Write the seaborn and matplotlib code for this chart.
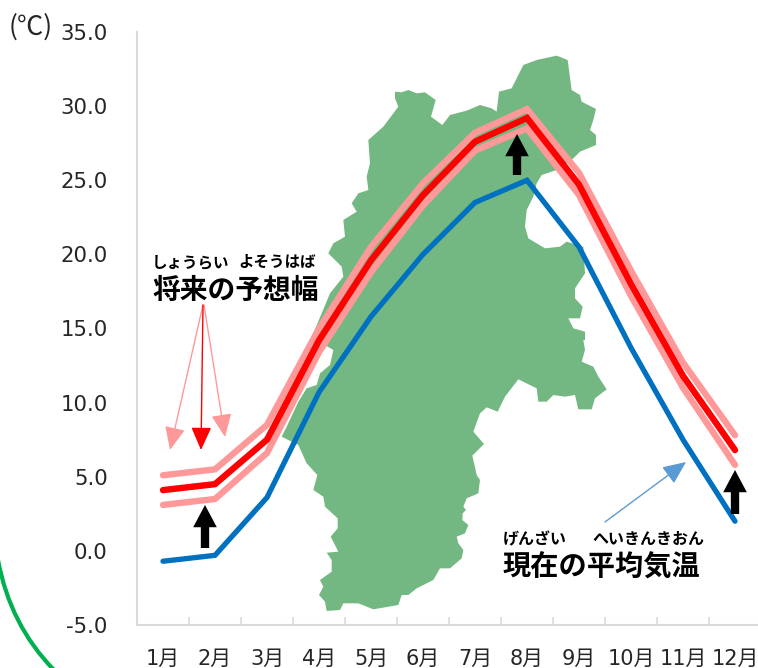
import matplotlib
matplotlib.use("Agg")
import matplotlib.pyplot as plt
import numpy as np
import pandas as pd
import seaborn as sns
from matplotlib.patches import FancyArrowPatch, PathPatch, Polygon
from matplotlib.path import Path

W, H = 758, 668

months = ["1月", "2月", "3月", "4月", "5月", "6月", "7月", "8月", "9月", "10月", "11月", "12月"]
current = [-0.7, -0.3, 3.6, 10.7, 15.8, 20.0, 23.5, 25.0, 20.5, 13.7, 7.5, 2.0]
future_mid = [4.1, 4.5, 7.5, 14.2, 19.6, 24.0, 27.6, 29.2, 24.7, 18.0, 11.8, 6.8]
future_high = [5.1, 5.5, 8.5, 15.0, 20.5, 24.8, 28.2, 29.8, 25.5, 18.9, 12.7, 7.8]
future_low = [3.1, 3.5, 6.6, 13.4, 18.8, 23.3, 27.0, 28.5, 24.0, 17.2, 11.0, 5.8]
y_ticks = [-5, 0, 5, 10, 15, 20, 25, 30, 35]

# outline of the prefecture, traced in px from the picture (background decoration)
map_top = [(375, 155), (395, 157), (415, 150), (440, 160), (465, 157), (497, 180), (483, 230), (517, 255),
           (540, 225), (590, 212), (630, 195), (665, 205), (680, 215), (687, 155), (725, 145), (760, 75),
           (800, 60), (860, 47), (893, 60), (905, 150), (930, 165), (935, 185), (978, 207), (970, 240),
           (960, 270), (978, 285), (978, 315), (930, 335), (905, 360), (860, 390), (815, 405), (800, 430),
           (790, 470), (770, 510), (765, 560), (775, 595), (825, 625), (870, 620), (890, 605), (940, 620),
           (945, 700), (915, 745), (915, 775), (938, 800), (930, 835), (895, 835), (910, 865), (945, 875),
           (945, 900)]
map_bottom = [(940, 30), (945, 60), (935, 95), (970, 110), (985, 140), (1010, 178), (975, 205), (965, 238),
              (925, 238), (915, 195), (885, 200), (850, 195), (830, 215), (805, 215), (800, 175), (745, 148),
              (705, 200), (683, 245), (650, 232), (630, 250), (610, 305), (642, 342), (607, 377), (620, 435),
              (630, 450), (625, 490), (590, 505), (580, 530), (588, 540), (578, 550), (577, 570), (595, 585),
              (585, 610), (560, 620), (565, 640), (580, 660), (575, 685), (540, 715), (510, 715), (490, 750),
              (440, 775), (415, 795), (395, 795), (385, 825), (310, 838), (265, 820), (220, 820), (210, 840),
              (170, 843), (165, 815), (147, 795), (160, 770), (150, 750), (185, 725), (185, 690), (170, 668),
              (205, 665), (182, 620), (203, 595), (203, 565), (165, 530), (160, 500), (130, 480), (142, 435),
              (110, 400), (85, 345), (35, 320), (50, 290), (85, 215), (110, 175), (140, 165), (150, 130),
              (180, 105), (190, 60), (165, 45)]
map_left = [(130, 880), (180, 760), (220, 710), (215, 680), (175, 640), (190, 610), (225, 590), (220, 540),
            (260, 515), (245, 490), (265, 460), (295, 450), (290, 410), (300, 370), (295, 300), (340, 260),
            (385, 200), (375, 175)]

sns.set_theme(style="white")
plt.rcParams["font.family"] = ["DejaVu Sans", "Noto Sans CJK JP"]


def fig_xy(x, y):
    return x / W, 1 - y / H


fig = plt.figure(figsize=(W / 100, H / 100), dpi=100)
ax = fig.add_axes([137 / W, 1 - 625 / H, 624 / W, 593 / H])

outline = [(270 + x / 3, 40 + y / 3) for x, y in map_top]
outline += [(270 + x / 3, 330 + y / 3) for x, y in map_bottom]
outline += [(270 + x / 3, 40 + y / 3) for x, y in map_left]
ax.add_patch(Polygon([fig_xy(x, y) for x, y in outline], closed=True, transform=fig.transFigure,
                     facecolor="#73b882", edgecolor="none", zorder=1, clip_on=False))

df = pd.DataFrame({"month": months, "current": current, "mid": future_mid,
                   "high": future_high, "low": future_low})
for col, color, lw, z in [("high", "#ff9999", 4.6, 2), ("low", "#ff9999", 4.6, 2),
                          ("mid", "#ff0000", 4.6, 3), ("current", "#0070c0", 3.8, 3)]:
    sns.lineplot(data=df, x="month", y=col, color=color, linewidth=lw, sort=False,
                 solid_capstyle="round", solid_joinstyle="miter", zorder=z, ax=ax)

ax.set_xlim(-0.5, 11.5)
ax.set_ylim(-5, 35)
ax.set_xlabel("")
ax.set_ylabel("")
ax.set_yticks(y_ticks)
ax.set_yticklabels([f"{v:.1f}" for v in y_ticks])
ax.set_xticks(np.arange(-0.5, 12, 1), minor=True)

for side in ["top", "right"]:
    ax.spines[side].set_visible(False)
for side in ["left", "bottom"]:
    ax.spines[side].set_color("#d9d9d9")
    ax.spines[side].set_linewidth(1.5)

ax.tick_params(axis="y", direction="in", length=6.5, width=1.1, color="#d9d9d9",
               pad=21, labelsize=15.3, labelcolor="#262626")
# pad kept just small enough that the month labels stay inside the picture
ax.tick_params(axis="x", which="major", length=0, pad=17, labelsize=15, labelcolor="#262626")
ax.tick_params(axis="x", which="minor", direction="in", length=5.5, width=1.1, color="#d9d9d9",
               bottom=True)


def label(x, y, s, size, weight="bold", color="black"):
    fx, fy = fig_xy(x, y)
    fig.text(fx, fy, s, fontsize=size, fontweight=weight, color=color, ha="left", va="center",
             family=["Noto Sans CJK JP", "DejaVu Sans"])


label(9, 27, "(℃)", 19, weight="normal", color="#262626")
label(152, 262, "しょうらい", 11.2)
label(238, 262, "よそうはば", 11.2)
label(152, 291, "将来の予想幅", 20)
label(503, 539, "げんざい", 11.5)
label(592, 539, "へいきんきおん", 11.5)
label(503, 568, "現在の平均気温", 20.3)


def thin_arrow(start, end, color):
    ax.annotate("", xy=fig_xy(*end), xytext=fig_xy(*start), xycoords="figure fraction",
                textcoords="figure fraction", zorder=5,
                arrowprops=dict(arrowstyle="-|>,head_width=0.42,head_length=0.95", color=color,
                                lw=1, mutation_scale=15, shrinkA=0, shrinkB=0))


thin_arrow((203, 305), (170, 450), "#ff9999")
thin_arrow((204, 305), (225, 437), "#ff9999")
thin_arrow((203, 305), (201, 450), "#ff0000")
thin_arrow((605, 522), (686, 462), "#5b9bd5")

# thick black arrows between the current and the future line
for x, y_tail, y_tip in [(205, 548, 505), (517, 175, 134), (735, 514, 470)]:
    fig.add_artist(FancyArrowPatch(fig_xy(x, y_tail), fig_xy(x, y_tip), transform=fig.transFigure,
                                   arrowstyle="simple,head_length=16,head_width=17,tail_width=6",
                                   mutation_scale=1, color="black", linewidth=0,
                                   shrinkA=0, shrinkB=0, zorder=6))

# green arc in the bottom left corner
arc_px = [(-2, 560), (10, 625), (54, 670)]
arc = Path([fig_xy(*p) for p in arc_px], [Path.MOVETO, Path.CURVE3, Path.CURVE3])
fig.add_artist(PathPatch(arc, transform=fig.transFigure, facecolor="none",
                         edgecolor="#00b050", linewidth=3))

fig.savefig("out.png", dpi=100)
